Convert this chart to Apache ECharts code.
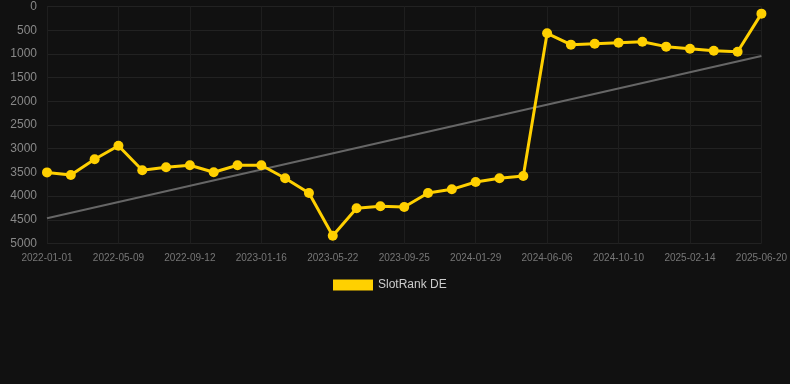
<!DOCTYPE html>
<html>
<head>
<meta charset="utf-8">
<script src="https://cdn.jsdelivr.net/npm/echarts@6/dist/echarts.min.js"></script>
<style>
html,body{margin:0;padding:0;background:#111111;}
#chart{width:790px;height:384px;}
</style>
</head>
<body>
<div id="chart"></div>
<script>
const categories = [
  '2022-01-01','2022-02-12','2022-03-26','2022-05-09','2022-06-20','2022-08-01',
  '2022-09-12','2022-10-24','2022-12-05','2023-01-16','2023-02-27','2023-04-10',
  '2023-05-22','2023-07-03','2023-08-14','2023-09-25','2023-11-06','2023-12-18',
  '2024-01-29','2024-03-11','2024-04-22','2024-06-06','2024-07-18','2024-08-29',
  '2024-10-10','2024-11-21','2025-01-02','2025-02-14','2025-03-28','2025-05-09',
  '2025-06-20'
];
const slotRankDE = [
  3500, 3555, 3224, 2937, 3456, 3392, 3350, 3498, 3350, 3350, 3624, 3935,
  4835, 4258, 4216, 4230, 3935, 3857, 3703, 3624, 3576, 566, 805, 784,
  763, 742, 847, 890, 932, 953, 151
];
const trendStart = 4468;
const trendEnd = 1044;
const yTicks = { min: 0, max: 5000, interval: 500 };

const trendData = categories.map((c, i) =>
  i === 0 ? trendStart : (i === categories.length - 1 ? trendEnd : null));

const chart = echarts.init(document.getElementById('chart'), null, { renderer: 'canvas' });
chart.setOption({
  backgroundColor: '#111111',
  animation: false,
  grid: { left: 47, right: 28, top: 6.5, bottom: 140.5, containLabel: false },
  legend: {
    data: [{ name: 'SlotRank DE', icon: 'rect' }],
    top: 274,
    left: 328,
    itemWidth: 40,
    itemHeight: 11,
    textStyle: { color: '#cccccc', fontSize: 12, fontFamily: 'Arial, Liberation Sans, sans-serif' }
  },
  xAxis: {
    type: 'category',
    data: categories,
    boundaryGap: false,
    axisLine: { show: false },
    axisTick: { show: false },
    axisLabel: { interval: 2, color: '#777777', fontSize: 10, margin: 10, fontFamily: 'Arial, Liberation Sans, sans-serif' },
    splitLine: { show: true, interval: 2, lineStyle: { color: '#1e1e1e', width: 1 } }
  },
  yAxis: {
    type: 'value',
    inverse: true,
    min: yTicks.min,
    max: yTicks.max,
    interval: yTicks.interval,
    axisLine: { show: false },
    axisTick: { show: false },
    axisLabel: { color: '#888888', fontSize: 12, margin: 10, fontFamily: 'Arial, Liberation Sans, sans-serif',
      formatter: v => String(v) },
    splitLine: { show: true, lineStyle: { color: '#222222', width: 1 } }
  },
  series: [
    {
      name: 'SlotRank DE',
      type: 'line',
      data: slotRankDE,
      color: '#FFD000',
      lineStyle: { color: '#FFD000', width: 3 },
      itemStyle: { color: '#FFD000' },
      symbol: 'circle',
      symbolSize: 10,
      z: 3
    },
    {
      name: 'Trend',
      type: 'line',
      data: trendData,
      connectNulls: true,
      symbol: 'none',
      lineStyle: { color: '#666666', width: 2 },
      z: 2
    }
  ]
});
</script>
</body>
</html>
